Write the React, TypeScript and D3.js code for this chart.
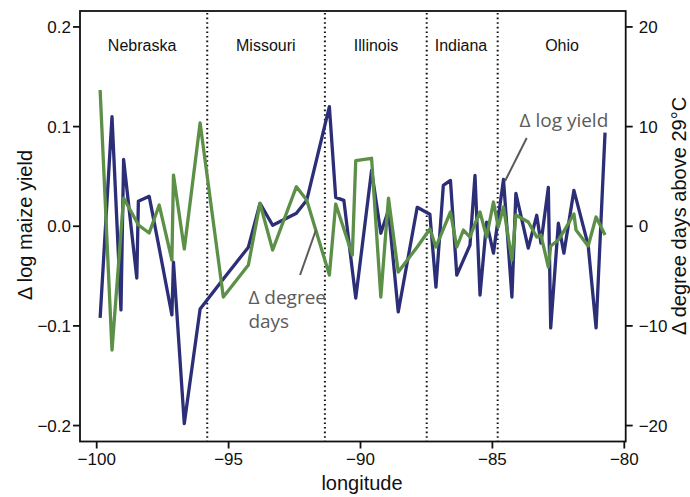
import React from "react";
import * as d3 from "d3";

// Longitude of each observation (shared by both series)
const longitude = [
  -99.87, -99.42, -99.08, -98.98, -98.48, -98.42, -98.01, -97.63, -97.15, -97.09,
  -96.68, -96.08, -95.2, -94.25, -93.81, -93.33, -92.43, -92.04, -91.18, -90.94,
  -90.63, -90.31, -90.18, -89.58, -89.23, -88.94, -88.57, -87.85, -87.37, -87.14,
  -86.86, -86.59, -86.35, -86.1, -85.85, -85.66, -85.47, -85.22, -84.96, -84.78,
  -84.58, -84.26, -84.11, -83.64, -83.32, -83.16, -82.88, -82.79, -82.5, -82.29,
  -81.91, -81.83, -81.37, -81.07, -80.73,
];

// Δ log maize yield (left axis)
const logYield = [
  -0.092, 0.11, -0.084, 0.067, -0.052, 0.025, 0.03, -0.022, -0.089, -0.036,
  -0.198, -0.083, -0.053, -0.021, 0.023, 0.001, 0.013, 0.026, 0.12, 0.029,
  0.026, -0.044, -0.072, 0.056, -0.007, 0.016, -0.086, 0.019, 0.012, -0.061,
  0.041, 0.046, -0.049, -0.034, -0.019, 0.051, -0.069, 0.004, -0.027, 0.008,
  0.047, -0.071, 0.033, -0.022, 0.011, -0.017, 0.039, -0.102, 0.003, -0.027,
  0.036, 0.028, -0.019, -0.102, 0.094,
];

// Δ degree days above 29°C (right axis)
const degreeDays = [
  13.67, -12.42, -0.58, 2.83, 0.43, 0.13, -0.68, 2.13, -3.39, 5.14,
  -2.28, 10.36, -7.1, -3.89, 2.3, -2.38, 3.97, 2.63, -4.89, 2.23,
  -0.28, -2.89, 6.58, 6.82, -7.1, 2.83, -4.59, -2.08, -0.28, -2.08,
  -0.28, 1.43, -2.08, -0.38, -1.08, 0.23, 1.43, -1.08, 2.43, -0.08,
  1.93, -3.39, 1.13, 0.43, -1.08, -0.88, -4.09, -1.98, -1.38, -0.48,
  1.23, -0.38, -1.98, 0.93, -0.88,
];

const stateBorders = [-95.81, -91.35, -87.49, -84.8];
const stateNames = ["Nebraska", "Missouri", "Illinois", "Indiana", "Ohio"];
const stateLabelLon = [-98.28, -93.59, -89.41, -86.19, -82.36];

const xTicks = [-100, -95, -90, -85, -80];
const yLeftTicks = [-0.2, -0.1, 0, 0.1, 0.2];
const yRightTicks = [-20, -10, 0, 10, 20];

const BLUE = "#2c2f77";
const GREEN = "#5c8f48";
const GRAY = "#5b5b5b";
const FONT = "'Liberation Sans', Arial, Helvetica, sans-serif";
const ANNO_FONT = "'Open Sans', 'Noto Sans', sans-serif";

const fmtMinus = (s: string) => s.replace("-", "\u2212");

export default function App() {
  const W = 690;
  const H = 497;
  const left = 80;
  const right = 625.7;
  const top = 11;
  const bottom = 441.5;

  const x = d3.scaleLinear().domain([-100.633, -79.947]).range([left, right]);
  const yL = d3.scaleLinear().domain([-0.216, 0.216]).range([bottom, top]);
  const yR = d3.scaleLinear().domain([-21.6, 21.6]).range([bottom, top]);

  const blueLine = d3
    .line<number>()
    .x((_, i) => x(longitude[i]))
    .y((d) => yL(d))(logYield) as string;
  const greenLine = d3
    .line<number>()
    .x((_, i) => x(longitude[i]))
    .y((d) => yR(d))(degreeDays) as string;

  const tickLen = 7;

  return (
    <svg
      width={W}
      height={H}
      style={{ position: "absolute", left: 0, top: 0, background: "#fff" }}
    >
      <rect x={0} y={0} width={W} height={H} fill="#fff" />

      {/* state borders */}
      {stateBorders.map((b, i) => (
        <line
          key={"b" + i}
          x1={x(b)}
          x2={x(b)}
          y1={top + 2}
          y2={bottom}
          stroke="#111"
          strokeWidth={2}
          strokeDasharray="1.6,3"
        />
      ))}

      {/* state names */}
      {stateNames.map((n, i) => (
        <text
          key={"s" + i}
          x={x(stateLabelLon[i])}
          y={50.5}
          textAnchor="middle"
          fontFamily={FONT}
          fontSize={16}
          fill="#111"
        >
          {n}
        </text>
      ))}

      {/* series */}
      <path d={blueLine} fill="none" stroke={BLUE} strokeWidth={3.3} strokeLinejoin="round" />
      <path d={greenLine} fill="none" stroke={GREEN} strokeWidth={3.3} strokeLinejoin="round" />

      {/* annotations */}
      <line
        x1={x(-83.7)}
        y1={yL(0.0886)}
        x2={x(-84.52)}
        y2={yL(0.0454)}
        stroke={GRAY}
        strokeWidth={2}
      />
      <text x={x(-82.29)} y={yL(0.0996)} textAnchor="middle" fontFamily={ANNO_FONT} fontSize={19} fill={GRAY}>
        Δ log yield
      </text>
      <line
        x1={x(-92.29)}
        y1={yR(-4.89)}
        x2={x(-91.69)}
        y2={yR(-0.38)}
        stroke={GRAY}
        strokeWidth={2}
      />
      <text x={x(-94.25)} y={yR(-7.8)} fontFamily={ANNO_FONT} fontSize={19} fill={GRAY}>
        Δ degree
      </text>
      <text x={x(-94.25)} y={yR(-10.21)} fontFamily={ANNO_FONT} fontSize={19} fill={GRAY}>
        days
      </text>

      {/* box */}
      <rect
        x={left}
        y={top}
        width={right - left}
        height={bottom - top}
        fill="none"
        stroke="#111"
        strokeWidth={1.8}
      />

      {/* bottom axis */}
      {xTicks.map((t) => (
        <g key={"x" + t}>
          <line x1={x(t)} x2={x(t)} y1={bottom} y2={bottom + tickLen} stroke="#111" strokeWidth={1.8} />
          <text x={x(t)} y={465} textAnchor="middle" fontFamily={FONT} fontSize={17} fill="#111">
            {fmtMinus(String(t))}
          </text>
        </g>
      ))}

      {/* left axis */}
      {yLeftTicks.map((t) => (
        <g key={"yl" + t}>
          <line x1={left - tickLen} x2={left} y1={yL(t)} y2={yL(t)} stroke="#111" strokeWidth={1.8} />
          <text
            x={left - 9}
            y={yL(t)}
            dy="0.35em"
            textAnchor="end"
            fontFamily={FONT}
            fontSize={17}
            fill="#111"
          >
            {fmtMinus(d3.format(".1f")(t))}
          </text>
        </g>
      ))}

      {/* right axis */}
      {yRightTicks.map((t) => (
        <g key={"yr" + t}>
          <line x1={right} x2={right + tickLen} y1={yR(t)} y2={yR(t)} stroke="#111" strokeWidth={1.8} />
          <text
            x={right + 13}
            y={yR(t)}
            dy="0.35em"
            textAnchor="start"
            fontFamily={FONT}
            fontSize={17}
            fill="#111"
          >
            {fmtMinus(String(t))}
          </text>
        </g>
      ))}

      {/* axis titles */}
      <text x={362} y={490} textAnchor="middle" fontFamily={FONT} fontSize={20} fill="#111">
        longitude
      </text>
      <text
        transform={`translate(31.5, 225) rotate(-90)`}
        textAnchor="middle"
        fontFamily={FONT}
        fontSize={20}
        fill="#111"
      >
        Δ log maize yield
      </text>
      <text
        transform={`translate(686, 216) rotate(-90)`}
        textAnchor="middle"
        fontFamily={FONT}
        fontSize={20}
        fill="#111"
      >
        Δ degree days above 29°C
      </text>
    </svg>
  );
}
